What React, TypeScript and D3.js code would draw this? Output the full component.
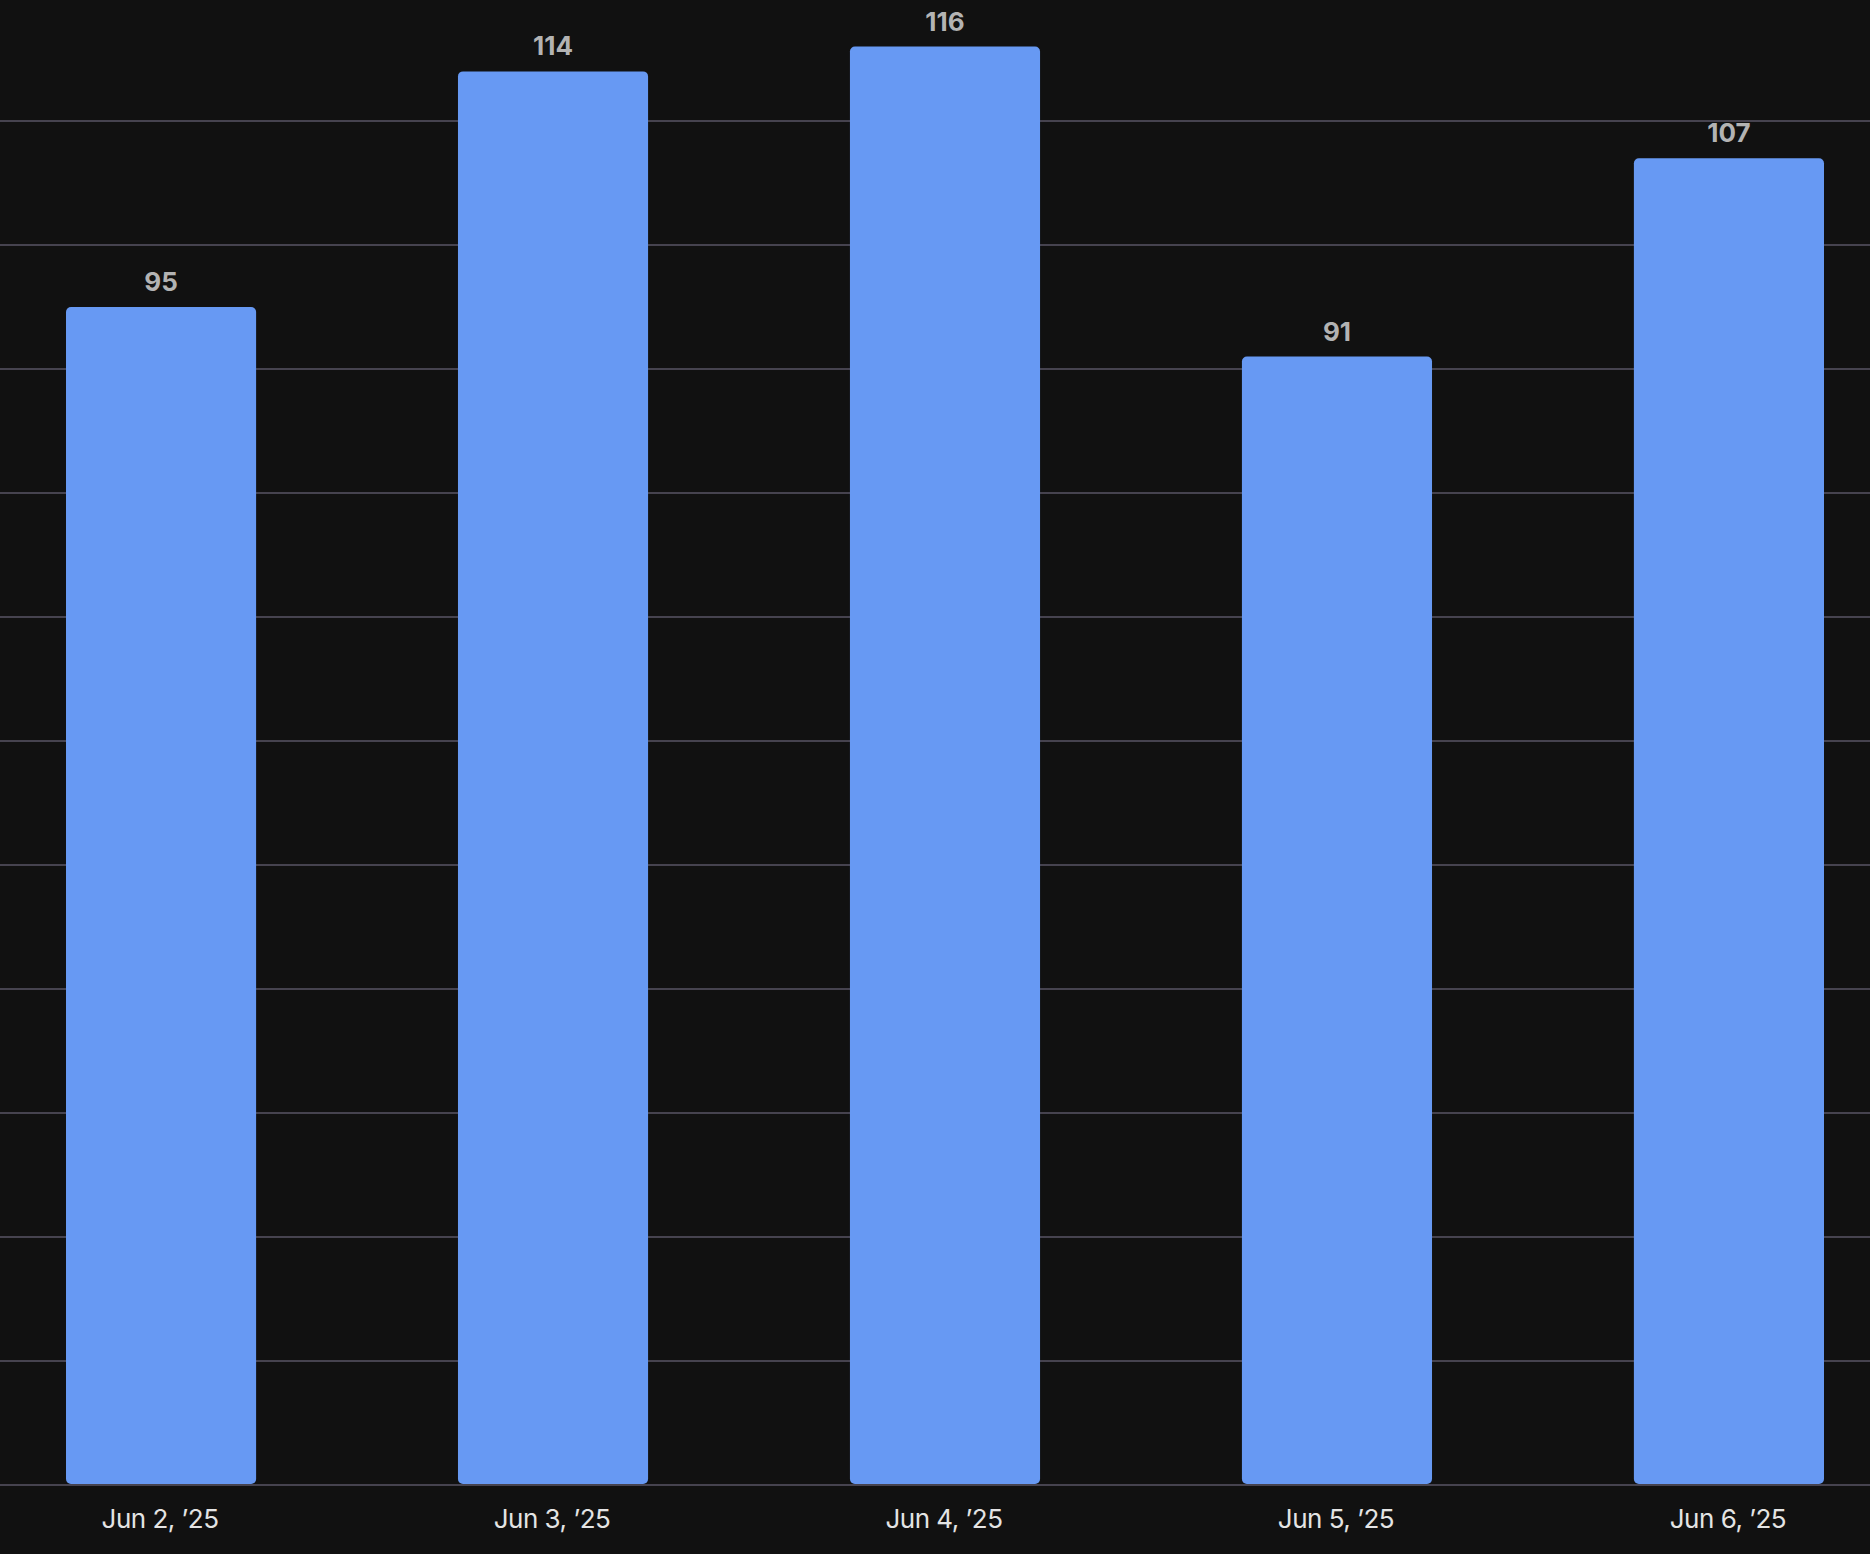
import React from "react";
import * as d3 from "d3";

const categories = ["Jun 2, \u201925", "Jun 3, \u201925", "Jun 4, \u201925", "Jun 5, \u201925", "Jun 6, \u201925"];
const values = [95, 114, 116, 91, 107];
const gridTicks = [0, 10, 20, 30, 40, 50, 60, 70, 80, 90, 100, 110];

const W = 1870;
const H = 1554;
const baseY = 1485;

export default function App() {
  const x = d3.scaleBand<string>().domain(categories).range([66, 1824]).paddingInner(0.515).paddingOuter(0);
  const y = d3.scaleLinear().domain([0, 120]).range([baseY, -3]);
  const font = "Inter, 'Noto Sans', sans-serif";
  return (
    <svg width={W} height={H} style={{ position: "absolute", left: 0, top: 0, display: "block" }}>
      <rect x={0} y={0} width={W} height={H} fill="#111111" />
      {gridTicks.map((t) => (
        <line key={t} x1={0} x2={W} y1={y(t)} y2={y(t)} stroke="#46434f" strokeWidth={2} />
      ))}
      {values.map((v, i) => {
        const bx = x(categories[i])!;
        const bw = x.bandwidth();
        const top = y(v);
        return (
          <g key={i}>
            <rect x={bx} y={top} width={bw} height={baseY - 1 - top} rx={5} ry={5} fill="#6799f3" />
            <text
              x={bx + bw / 2}
              y={top - 16}
              textAnchor="middle"
              fontFamily={font}
              fontWeight={700}
              fontSize={26}
              fill="#b3b3b3"
            >
              {v}
            </text>
            <text
              x={bx + bw / 2 - 1}
              y={1528}
              textAnchor="middle"
              fontFamily={font}
              fontSize={26}
              fill="#e4e4e4"
              letterSpacing={-0.5}
            >
              {categories[i]}
            </text>
          </g>
        );
      })}
      <line x1={0} x2={W} y1={baseY} y2={baseY} stroke="#46434f" strokeWidth={2} />
    </svg>
  );
}
